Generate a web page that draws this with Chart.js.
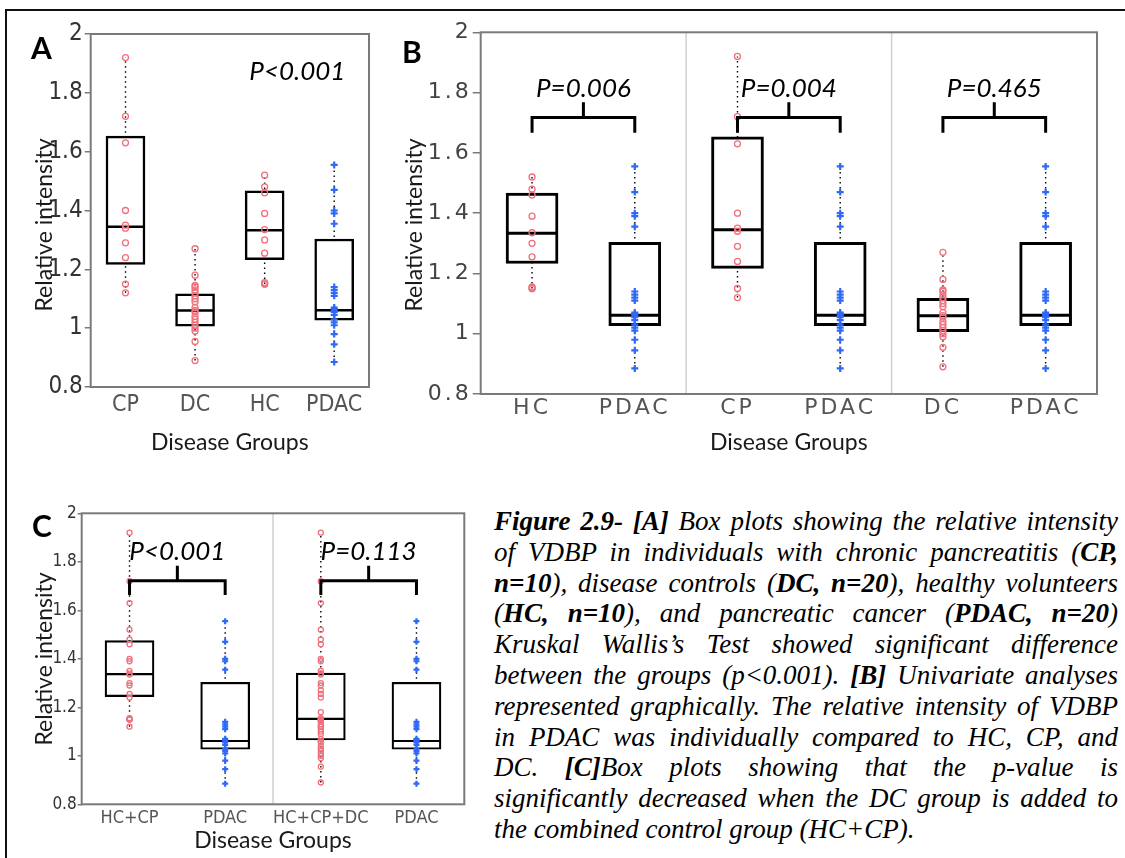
<!DOCTYPE html>
<html>
<head>
<meta charset="utf-8">
<title>Figure 2.9 - VDBP relative intensity</title>
<script src="https://cdn.jsdelivr.net/npm/chart.js@4.4.1/dist/chart.umd.min.js"></script>
<style>
    html, body { margin: 0; padding: 0; background: #fff; }
    #page { position: relative; width: 1125px; height: 858px; overflow: hidden; }
    #page canvas { position: absolute; }
    .rule { position: absolute; background: #111; }
    .letter { position: absolute; font: bold 30px Lato, sans-serif; line-height: 1; color: #000; }
    .ytitle {
        position: absolute; font: 23px Lato, sans-serif; line-height: 1; color: #1a1a1a;
        white-space: nowrap; transform: translate(-50%, -50%) rotate(-90deg);
    }
    #caption {
        position: absolute; left: 494px; top: 506px; width: 624px;
        font: italic 27px "Liberation Serif", serif; line-height: 30.8px; color: #000;
    }
    #caption div { white-space: nowrap; text-align: justify; text-align-last: justify; }
    #caption div.last { text-align-last: left; }
</style>
</head>
<body>
<div id="page">
    <canvas id="chartA" width="390" height="470" style="left:0;top:0"></canvas>
    <canvas id="chartB" width="735" height="470" style="left:390px;top:0"></canvas>
    <canvas id="chartC" width="490" height="388" style="left:0;top:470px"></canvas>

    <div class="rule" style="left:5px;top:9px;width:1120px;height:2px"></div>
    <div class="rule" style="left:5px;top:9px;width:2px;height:849px"></div>

    <div class="letter" style="left:31px;top:32px">A</div>
    <div class="letter" style="left:402px;top:36px">B</div>
    <div class="letter" style="left:32px;top:510px">C</div>

    <div class="ytitle" style="left:43px;top:225px">Relative intensity</div>
    <div class="ytitle" style="left:413px;top:225px">Relative intensity</div>
    <div class="ytitle" style="left:43px;top:659px">Relative intensity</div>

    <div id="caption">
        <div><b>Figure 2.9- [A]</b> Box plots showing the relative intensity</div>
        <div>of VDBP in individuals with chronic pancreatitis (<b>CP,</b></div>
        <div><b>n=10</b>), disease controls (<b>DC, n=20</b>), healthy volunteers</div>
        <div>(<b>HC, n=10</b>), and pancreatic cancer (<b>PDAC, n=20</b>)</div>
        <div>Kruskal Wallis’s Test showed significant difference</div>
        <div>between the groups (p&lt;0.001). <b>[B]</b> Univariate analyses</div>
        <div>represented graphically. The relative intensity of VDBP</div>
        <div>in PDAC was individually compared to HC, CP, and</div>
        <div>DC. <b>[C]</b>Box plots showing that the p-value is</div>
        <div>significantly decreased when the DC group is added to</div>
        <div class="last">the combined control group (HC+CP).</div>
    </div>
</div>

<script>
// relative intensity of each sample
const cpValues = [1.92, 1.72, 1.63, 1.40, 1.35, 1.34, 1.29, 1.24, 1.15, 1.12];
const dcValues = [1.27, 1.18, 1.145, 1.14, 1.13, 1.12, 1.11, 1.10, 1.09, 1.07,
    1.06, 1.055, 1.04, 1.03, 1.02, 1.01, 1.00, 0.99, 0.955, 0.89];
const hcValues = [1.52, 1.48, 1.46, 1.39, 1.335, 1.30, 1.255, 1.155, 1.15, 1.15];
const pdacValues = [1.555, 1.47, 1.40, 1.39, 1.355, 1.14, 1.13, 1.12, 1.11, 1.07,
    1.065, 1.06, 1.055, 1.045, 1.03, 1.02, 1.01, 0.98, 0.945, 0.885];

// box statistics as drawn: [lower quartile, median, upper quartile]
const boxCP = [1.217, 1.345, 1.653];
const boxDC = [1.007, 1.06, 1.117];
const boxHC = [1.233, 1.333, 1.467];
const boxPDAC = [1.027, 1.061, 1.303];
const boxHCCP = [1.244, 1.337, 1.475];
const boxHCCPDC = [1.065, 1.152, 1.341];

const groupsA = ["CP", "DC", "HC", "PDAC"];
const groupsB = ["HC", "PDAC", "CP", "PDAC", "DC", "PDAC"];
const groupsC = ["HC+CP", "PDAC", "HC+CP+DC", "PDAC"];
const yTicks = [0.8, 1, 1.2, 1.4, 1.6, 1.8, 2];
const pLabelA = ["P<0.001"];
const pLabelsB = ["P=0.006", "P=0.004", "P=0.465"];
const pLabelsC = ["P<0.001", "P=0.113"];

const NARROW = '"Liberation Sans Narrow", "Arial Narrow", "DejaVu Sans Condensed", sans-serif';
const WIDE = '"DejaVu Sans", Verdana, sans-serif';

// frame, facet dividers, brackets and p-values
const panelDecor = {
    id: "panelDecor",
    beforeDatasetsDraw(chart, args, opts) {
        const { ctx, chartArea: a, scales: { x } } = chart;
        ctx.save();
        ctx.strokeStyle = "#d0d0d0";
        ctx.lineWidth = 1.5;
        (opts.dividers || []).forEach((v) => {
            const px = x.getPixelForValue(v);
            ctx.beginPath();
            ctx.moveTo(px, a.top);
            ctx.lineTo(px, a.bottom);
            ctx.stroke();
        });
        ctx.restore();
    },
    afterDatasetsDraw(chart, args, opts) {
        const { ctx, chartArea: a, scales: { x, y } } = chart;
        ctx.save();
        ctx.strokeStyle = "#7a7a7a";
        ctx.lineWidth = 2;
        ctx.strokeRect(a.left, a.top, a.right - a.left, a.bottom - a.top);

        ctx.strokeStyle = "#000";
        ctx.lineWidth = 3;
        (opts.brackets || []).forEach((b) => {
            const x0 = x.getPixelForValue(b.from);
            const x1 = x.getPixelForValue(b.to);
            const yb = y.getPixelForValue(b.bar);
            const yl = y.getPixelForValue(b.leg);
            ctx.beginPath();
            ctx.moveTo(x0, yl);
            ctx.lineTo(x0, yb);
            ctx.lineTo(x1, yb);
            ctx.lineTo(x1, yl);
            ctx.moveTo((x0 + x1) / 2, yb);
            ctx.lineTo((x0 + x1) / 2, y.getPixelForValue(b.tip));
            ctx.stroke();
        });

        ctx.fillStyle = "#000";
        ctx.font = "italic 26px Lato, sans-serif";
        ctx.textAlign = "center";
        ctx.textBaseline = "alphabetic";
        (opts.labels || []).forEach((l) => {
            ctx.fillText(l.text, x.getPixelForValue(l.x), y.getPixelForValue(l.y));
        });
        ctx.restore();
        // wide tick lettering (ticks are drawn after datasets in this panel)
        if (opts.tickSpacing) ctx.letterSpacing = opts.tickSpacing;
    },
    afterDraw(chart, args, opts) {
        if (opts.tickSpacing) chart.ctx.letterSpacing = "0px";
    },
};

function boxPanel(id, cfg) {
    const datasets = [];
    // dotted whiskers from lowest to highest sample
    cfg.values.forEach((vals, i) => {
        datasets.push({
            type: "line",
            data: [{ x: i, y: Math.min(...vals) }, { x: i, y: Math.max(...vals) }],
            borderColor: "#000",
            borderWidth: 1.4,
            borderDash: [1.5, 3.5],
            pointRadius: 0,
            order: 4,
        });
    });
    // boxes
    datasets.push({
        type: "bar",
        data: cfg.boxes.map((b, i) => ({ x: i, y: [b[0], b[2]] })),
        backgroundColor: "#fff",
        borderColor: "#000",
        borderWidth: cfg.boxLine,
        borderSkipped: false,
        barThickness: cfg.boxWidth,
        order: 3,
    });
    // medians
    datasets.push({
        type: "scatter",
        data: cfg.boxes.map((b, i) => ({ x: i, y: b[1] })),
        pointStyle: "line",
        pointRadius: cfg.boxWidth / 2 - 1,
        pointBorderWidth: cfg.boxLine,
        pointBorderColor: "#000",
        order: 2,
    });
    // samples
    cfg.values.forEach((vals, i) => {
        const cancer = cfg.groups[i] === "PDAC";
        datasets.push({
            type: "scatter",
            data: vals.map((v) => ({ x: i, y: v })),
            pointStyle: cancer ? "cross" : "circle",
            pointRadius: cancer ? cfg.crossSize : cfg.circleSize,
            pointBorderWidth: cancer ? 2.2 : 1.3,
            pointBorderColor: cancer ? "#2f69f5" : "#f0707c",
            pointBackgroundColor: "transparent",
            order: 1,
        });
    });

    const tz = cfg.tickSpacing ? 1 : 0;
    return new Chart(document.getElementById(id), {
        type: "bar",
        data: { datasets },
        options: {
            responsive: false,
            animation: false,
            events: [],
            layout: { padding: cfg.padding },
            plugins: {
                legend: { display: false },
                tooltip: { enabled: false },
                panelDecor: {
                    dividers: cfg.dividers,
                    brackets: cfg.brackets,
                    labels: cfg.labels,
                    tickSpacing: cfg.tickSpacing,
                },
            },
            scales: {
                x: {
                    type: "linear",
                    min: -0.5,
                    max: cfg.groups.length - 0.5,
                    offset: false,
                    afterBuildTicks: (s) => { s.ticks = cfg.groups.map((g, i) => ({ value: i })); },
                    afterFit: (s) => { s.height = cfg.xHeight; },
                    ticks: {
                        callback: (v) => cfg.groups[v],
                        font: cfg.xFont,
                        color: "#555",
                        padding: cfg.xPad,
                        autoSkip: false,
                        maxRotation: 0,
                        z: tz,
                    },
                    grid: { display: false, drawTicks: false, offset: false },
                    border: { display: false },
                    title: {
                        display: true,
                        text: "Disease Groups",
                        font: { family: "Lato, sans-serif", size: 23 },
                        color: "#1a1a1a",
                        padding: { top: 0, bottom: cfg.titlePad },
                    },
                },
                y: {
                    min: 0.8,
                    max: 2,
                    afterBuildTicks: (s) => { s.ticks = yTicks.map((v) => ({ value: v })); },
                    afterFit: (s) => { s.width = cfg.yWidth; },
                    ticks: {
                        callback: (v) => String(v),
                        font: cfg.yFont,
                        color: cfg.yColor,
                        padding: cfg.yPad,
                        z: tz,
                    },
                    grid: { drawOnChartArea: false, tickLength: cfg.tickLength, color: "#7a7a7a", lineWidth: 1.5 },
                    border: { display: false },
                },
            },
        },
        plugins: [panelDecor],
    });
}

// A: all four groups
boxPanel("chartA", {
    groups: groupsA,
    values: [cpValues, dcValues, hcValues, pdacValues],
    boxes: [boxCP, boxDC, boxHC, boxPDAC],
    padding: { left: 0, top: 34, right: 11, bottom: 0 },
    yWidth: 90.7,
    xHeight: 83,
    yFont: { family: NARROW, size: 24 },
    yColor: "#333",
    yPad: 2,
    tickLength: 6,
    xFont: { family: NARROW, size: 23 },
    xPad: 4,
    titlePad: 14,
    boxWidth: 39,
    boxLine: 2.5,
    circleSize: 3,
    crossSize: 3.5,
    labels: [{ text: pLabelA[0], x: 2.47, y: 1.845 }],
});

// B: PDAC against each control group
boxPanel("chartB", {
    groups: groupsB,
    values: [hcValues, pdacValues, cpValues, pdacValues, dcValues, pdacValues],
    boxes: [boxHC, boxPDAC, boxCP, boxPDAC, boxDC, boxPDAC],
    padding: { left: 0, top: 32.3, right: 22.7, bottom: 0 },
    yWidth: 90.7,
    xHeight: 76,
    yFont: { family: WIDE, size: 22 },
    yColor: "#444",
    yPad: 1,
    tickLength: 8,
    xFont: { family: WIDE, size: 22 },
    xPad: 1,
    titlePad: 14,
    tickSpacing: "3px",
    boxWidth: 52,
    boxLine: 3,
    circleSize: 3,
    crossSize: 3.5,
    dividers: [1.5, 3.5],
    brackets: [0, 2, 4].map((i) => ({ from: i, to: i + 1, bar: 1.717, leg: 1.667, tip: 1.768 })),
    labels: pLabelsB.map((t, k) => ({ text: t, x: 2 * k + 0.5, y: 1.786 })),
});

// C: combined control groups
boxPanel("chartC", {
    groups: groupsC,
    values: [hcValues.concat(cpValues), pdacValues, hcValues.concat(cpValues, dcValues), pdacValues],
    boxes: [boxHCCP, boxPDAC, boxHCCPDC, boxPDAC],
    padding: { left: 0, top: 43.3, right: 14.3, bottom: 0 },
    yWidth: 81.7,
    xHeight: 53.7,
    yFont: { family: NARROW, size: 17 },
    yColor: "#333",
    yPad: 1,
    tickLength: 4,
    xFont: { family: NARROW, size: 18 },
    xPad: 3,
    titlePad: 3.7,
    boxWidth: 49,
    boxLine: 2.2,
    circleSize: 2.5,
    crossSize: 3,
    dividers: [1.5],
    brackets: [0, 2].map((i) => ({ from: i, to: i + 1, bar: 1.722, leg: 1.663, tip: 1.784 })),
    labels: pLabelsC.map((t, k) => ({ text: t, x: 2 * k + 0.5, y: 1.807 })),
});
</script>
</body>
</html>
